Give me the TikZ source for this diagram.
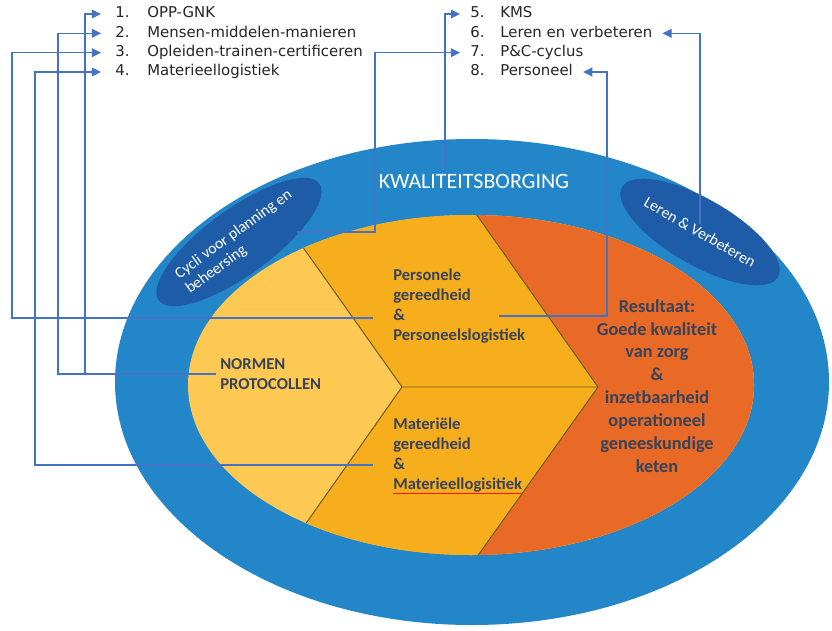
\documentclass[tikz,border=0pt]{standalone}
\usepackage{fontspec}
\setmainfont{Carlito}
\newfontfamily\listfont{DejaVu Sans}
\usetikzlibrary{shapes.geometric,calc,arrows.meta}
\definecolor{ringblue}{HTML}{2386C8}
\definecolor{darkblue}{HTML}{1F5CA8}
\definecolor{paleyellow}{HTML}{FEC952}
\definecolor{midyellow}{HTML}{F7AE1C}
\definecolor{resorange}{HTML}{E96A26}
\definecolor{linkblue}{HTML}{4472C4}
\definecolor{inktext}{HTML}{38435A}
\definecolor{edgeline}{HTML}{6E5A26}
\begin{document}
\begin{tikzpicture}[x=0.025cm,y=-0.025cm,
	item/.style={anchor=west,inner xsep=0.25cm,inner ysep=0pt,text height=7.6pt,text depth=2pt,text=black!85,font=\listfont\fontsize{10.6}{12}\selectfont},
	link/.style={draw=linkblue,line width=0.9pt},
	tip/.style={-{Triangle[length=2.3mm,width=2.2mm]}},
	bodytext/.style={inner xsep=0.1cm,inner ysep=0pt,align=left,text=inktext,font=\bfseries\fontsize{11.8}{14.2}\selectfont},
	bubble/.style={ellipse,fill=darkblue,text=white,minimum width=4.8cm,minimum height=1.65cm,inner sep=0pt,align=left,font=\fontsize{11.2}{13}\selectfont}]
	
	\useasboundingbox (0,0) rectangle (832,630);
	\fill[ringblue] (472,382) ellipse [x radius=357,y radius=243];
	\begin{scope}
		\clip (471,385) ellipse [x radius=283,y radius=170];
		\fill[paleyellow] (100,100) rectangle (800,650);
		\fill[midyellow] (234,150) -- (402,387) -- (238,620) -- (900,620) -- (900,150) -- cycle;
		\fill[resorange] (431,150) -- (598,387) -- (432,620) -- (900,620) -- (900,150) -- cycle;
		\draw[edgeline,line width=0.7pt] (234,150) -- (402,387) -- (238,620) (431,150) -- (598,387) -- (432,620) (402,387) -- (598,387);
	\end{scope}
	
	\foreach \t [count=\i] in {OPP-GNK,Mensen-middelen-manieren,Opleiden-trainen-certificeren,Materieellogistiek}
		\node[item,inner xsep=0.35cm] (it\i) at (101,{14+19.33*(\i-1)}) {\makebox[0.8cm][l]{\i.}\t};
	\foreach \t [count=\i from 5] in {KMS,Leren en verbeteren,P\&C-cyclus,Personeel}
		\node[item] (it\i) at (460,{14+19.33*(\i-5)}) {\makebox[0.75cm][l]{\i.}\t};
	
	\node[text=white,font=\fontsize{15.6}{18}\selectfont] (kwal) at (474,181) {KWALITEITSBORGING};
	\node[bubble,rotate=36] (cycli) at (239,242) {Cycli voor planning en\\beheersing};
	\node[bubble,rotate=-30,minimum width=4.5cm] (leren) at (700,232) {Leren \& Verbeteren};
	\node[bodytext,anchor=west] (normen) at (216,374) {NORMEN\\PROTOCOLLEN};
	\node[bodytext,anchor=west] (pers) at (389,306) {Personele\\gereedheid\\\&\\Personeelslogistiek};
	\node[bodytext,anchor=west] (mat) at (389,455) {Materiële\\gereedheid\\\&\\Materieellogisitiek};
	\node[bodytext,align=center,font=\bfseries\fontsize{13}{16.3}\selectfont] (res) at (657,386) {Resultaat:\\Goede kwaliteit\\van zorg\\\&\\inzetbaarheid\\operationeel\\geneeskundige\\keten};
	\draw[red!85!orange,line width=0.6pt] ($(mat.south west)+(4,1)$) -- ($(mat.south east)+(-4,1)$);
	
	\draw[link,tip] (normen.west) -| (85,0 |- it1.west) -- (it1.west);
	\draw[link,tip] (normen.west) -| (58,0 |- it2.west) -- (it2.west);
	\draw[link,tip] ($(pers.west)+(-16,12)$) -| (12,0 |- it3.west) -- (it3.west);
	\draw[link,tip] ($(mat.west)+(-16,10)$) -| (35,0 |- it4.west) -- (it4.west);
	\draw[link,tip] ($(kwal.north)+(-29,0)$) |- (it5.west);
	\draw[link,tip] ($(leren.center)+(0,-8)$) |- (it6.east);
	\draw[link,tip] ($(cycli.center)+(58,-10)$) -| (375,0 |- it7.west) -- (it7.west);
	\draw[link,tip] ($(pers.center)+(40,10)$) -| (607,0 |- it8.east) -- (it8.east);
\end{tikzpicture}
\end{document}
